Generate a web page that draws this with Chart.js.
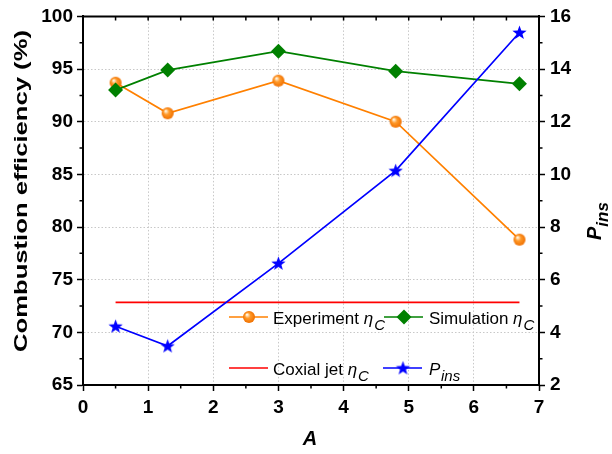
<!DOCTYPE html>
<html lang="en">
<head>
    <meta charset="UTF-8">
    <title>Combustion efficiency vs A</title>
    <script src="https://cdn.jsdelivr.net/npm/chart.js@4.4.0/dist/chart.umd.min.js"></script>
    <style>
        body { margin: 0; background: #fff; }
        #wrap { width: 612px; height: 454px; }
    </style>
</head>
<body>
    <div id="wrap"><canvas id="chart" width="612" height="454"></canvas></div>

    <script>
        // values
        const aValues = [0.5, 1.3, 3, 4.8, 6.7];
        const experimentEta = [93.7, 90.8, 93.9, 90.0, 78.8];
        const simulationEta = [93.0, 94.9, 96.7, 94.8, 93.6];
        const coaxialA = [0.5, 6.7];
        const coaxialEta = [72.85, 72.85];
        const pIns = [4.23, 3.48, 6.62, 10.14, 15.39];

        const xTicks = [0, 1, 2, 3, 4, 5, 6, 7];
        const etaTicks = [65, 70, 75, 80, 85, 90, 95, 100];
        const pTicks = [2, 4, 6, 8, 10, 12, 14, 16];

        const FONT = "'Liberation Sans', Arial, sans-serif";
        const ORANGE = '#ff8000', GREEN = '#008000', RED = '#ff0000', BLUE = '#0000ff';

        function toPoints(xs, ys) {
            return xs.map((x, i) => ({ x: x, y: ys[i] }));
        }

        // shaded orange ball marker
        function makeBall(r) {
            const c = document.createElement('canvas');
            c.width = c.height = 2 * r + 2;
            const g = c.getContext('2d');
            const cx = r + 1, cy = r + 1;
            const grad = g.createRadialGradient(cx - r * 0.35, cy - r * 0.4, r * 0.1, cx, cy, r);
            grad.addColorStop(0, '#fff4e0');
            grad.addColorStop(0.4, '#ff9a2a');
            grad.addColorStop(1, '#f07000');
            g.fillStyle = grad;
            g.beginPath();
            g.arc(cx, cy, r, 0, Math.PI * 2);
            g.fill();
            return c;
        }

        // filled five point star marker
        function makeStar(ro, ri) {
            const c = document.createElement('canvas');
            c.width = c.height = 2 * ro + 2;
            const g = c.getContext('2d');
            const cx = ro + 1, cy = ro + 1.5;
            g.fillStyle = BLUE;
            g.beginPath();
            for (let i = 0; i < 10; i++) {
                const r = i % 2 ? ri : ro;
                const a = -Math.PI / 2 + i * Math.PI / 5;
                g.lineTo(cx + r * Math.cos(a), cy + r * Math.sin(a));
            }
            g.closePath();
            g.fill();
            return c;
        }

        const ball = makeBall(6);
        const star = makeStar(7.5, 3.1);

        function tickList(list) {
            return function (scale) { scale.ticks = list.map(v => ({ value: v })); };
        }

        function drawEtaLabel(ctx, x, y, text) {
            ctx.font = '17px ' + FONT;
            ctx.fillText(text, x, y);
            let w = ctx.measureText(text).width;
            ctx.font = 'italic 17px ' + FONT;
            ctx.fillText('\u03b7', x + w, y);
            w += ctx.measureText('\u03b7').width;
            ctx.font = 'italic 15px ' + FONT;
            ctx.fillText('C', x + w + 1, y + 6);
        }

        const extras = {
            id: 'extras',
            afterDatasetsDraw(chart) {
                const ctx = chart.ctx;
                const area = chart.chartArea;
                const xs = chart.scales.x, yl = chart.scales.y, yr = chart.scales.y1;
                ctx.save();
                ctx.strokeStyle = '#000';
                ctx.lineWidth = 2;

                // top frame line
                ctx.beginPath();
                ctx.moveTo(area.left - 1, area.top);
                ctx.lineTo(area.right + 1, area.top);
                ctx.stroke();

                ctx.lineWidth = 1.5;
                ctx.beginPath();
                // minor ticks
                for (let v = 0.5; v < 7; v += 1) {
                    const px = xs.getPixelForValue(v);
                    ctx.moveTo(px, area.bottom);
                    ctx.lineTo(px, area.bottom + 3.5);
                }
                for (let v = 0.5; v < 7; v += 0.5) {
                    const px = xs.getPixelForValue(v);
                    ctx.moveTo(px, area.top);
                    ctx.lineTo(px, area.top + 4);
                }
                for (let v = 67.5; v < 100; v += 5) {
                    const py = yl.getPixelForValue(v);
                    ctx.moveTo(area.left - 3.5, py);
                    ctx.lineTo(area.left, py);
                }
                for (let v = 3; v < 16; v += 2) {
                    const py = yr.getPixelForValue(v);
                    ctx.moveTo(area.right, py);
                    ctx.lineTo(area.right + 3.5, py);
                }
                ctx.stroke();

                // legend
                ctx.lineWidth = 1.7;
                ctx.fillStyle = '#000';
                ctx.textBaseline = 'alphabetic';
                const rows = [317, 368];
                const cols = [229, 384];

                ctx.strokeStyle = ORANGE;
                ctx.beginPath(); ctx.moveTo(cols[0], rows[0]); ctx.lineTo(cols[0] + 39, rows[0]); ctx.stroke();
                ctx.drawImage(ball, cols[0] + 20 - ball.width / 2, rows[0] - ball.height / 2);

                ctx.strokeStyle = GREEN;
                ctx.beginPath(); ctx.moveTo(cols[1], rows[0]); ctx.lineTo(cols[1] + 39, rows[0]); ctx.stroke();
                ctx.fillStyle = GREEN;
                ctx.beginPath();
                const dx = cols[1] + 20, dy = rows[0];
                ctx.moveTo(dx, dy - 7.5); ctx.lineTo(dx + 7.5, dy); ctx.lineTo(dx, dy + 7.5); ctx.lineTo(dx - 7.5, dy);
                ctx.closePath(); ctx.fill();

                ctx.strokeStyle = RED;
                ctx.beginPath(); ctx.moveTo(cols[0], rows[1]); ctx.lineTo(cols[0] + 39, rows[1]); ctx.stroke();

                ctx.strokeStyle = BLUE;
                ctx.beginPath(); ctx.moveTo(cols[1] - 1, rows[1]); ctx.lineTo(cols[1] + 38, rows[1]); ctx.stroke();
                ctx.drawImage(star, cols[1] + 19 - star.width / 2, rows[1] - star.height / 2);

                ctx.fillStyle = '#000';
                drawEtaLabel(ctx, 273, 324, 'Experiment ');
                drawEtaLabel(ctx, 429, 324, 'Simulation ');
                drawEtaLabel(ctx, 273, 375, 'Coxial jet ');
                ctx.font = 'italic 17px ' + FONT;
                ctx.fillText('P', 429, 375);
                ctx.font = 'italic 15px ' + FONT;
                ctx.fillText('ins', 441, 381);

                // axis titles
                ctx.save();
                ctx.translate(27, 191);
                ctx.rotate(-Math.PI / 2);
                ctx.font = 'bold 19px ' + FONT;
                const title = 'Combustion efficiency (%)';
                const tw = ctx.measureText(title).width;
                ctx.scale(322 / tw, 1);
                ctx.textAlign = 'center';
                ctx.fillText(title, 0, 0);
                ctx.restore();

                ctx.save();
                ctx.translate(601, 240);
                ctx.rotate(-Math.PI / 2);
                ctx.font = 'bold italic 20px ' + FONT;
                ctx.fillText('P', 0, 0);
                const pw = ctx.measureText('P').width;
                ctx.font = 'bold italic 17px ' + FONT;
                ctx.fillText('ins', pw, 7);
                ctx.restore();

                ctx.font = 'bold italic 20px ' + FONT;
                ctx.textAlign = 'center';
                ctx.fillText('A', 310, 445);
                ctx.restore();
            }
        };

        const tickFont = { family: FONT, size: 19, weight: 'bold' };
        const gridOpts = { color: '#c8c8c8', lineWidth: 1, tickLength: 6, tickColor: '#000', tickWidth: 1.5 };

        new Chart(document.getElementById('chart'), {
            type: 'line',
            data: {
                datasets: [
                    {
                        label: 'Experiment',
                        data: toPoints(aValues, experimentEta),
                        borderColor: ORANGE, borderWidth: 1.7,
                        pointStyle: ball, pointRadius: 6,
                        yAxisID: 'y', order: 4
                    },
                    {
                        label: 'Simulation',
                        data: toPoints(aValues, simulationEta),
                        borderColor: GREEN, backgroundColor: GREEN, borderWidth: 1.7,
                        pointStyle: 'rectRot', pointRadius: 7.5, pointBorderWidth: 0,
                        yAxisID: 'y', order: 3
                    },
                    {
                        label: 'Coxial jet',
                        data: toPoints(coaxialA, coaxialEta),
                        borderColor: RED, borderWidth: 1.7, pointRadius: 0,
                        yAxisID: 'y', order: 2
                    },
                    {
                        label: 'Pins',
                        data: toPoints(aValues, pIns),
                        borderColor: BLUE, borderWidth: 1.7,
                        pointStyle: star, pointRadius: 8,
                        yAxisID: 'y1', order: 1
                    }
                ]
            },
            options: {
                responsive: false,
                animation: false,
                devicePixelRatio: 1,
                layout: { padding: { top: 15, left: 0, right: 0, bottom: 0 } },
                plugins: { legend: { display: false }, tooltip: { enabled: false } },
                scales: {
                    x: {
                        type: 'linear', min: 0, max: 7,
                        afterBuildTicks: tickList(xTicks),
                        ticks: { color: '#000', font: tickFont, padding: 5, maxRotation: 0 },
                        grid: gridOpts,
                        border: { color: '#000', width: 2, dash: [1.5, 2] },
                        afterFit(s) { s.height = 69; }
                    },
                    y: {
                        position: 'left', min: 65, max: 100,
                        afterBuildTicks: tickList(etaTicks),
                        ticks: { color: '#000', font: tickFont, padding: 4 },
                        grid: gridOpts,
                        border: { color: '#000', width: 2, dash: [1.5, 2] },
                        afterFit(s) { s.width = 83; }
                    },
                    y1: {
                        position: 'right', min: 2, max: 16,
                        afterBuildTicks: tickList(pTicks),
                        ticks: { color: '#000', font: tickFont, padding: 5 },
                        grid: Object.assign({}, gridOpts, { drawOnChartArea: false }),
                        border: { color: '#000', width: 2 },
                        afterFit(s) { s.width = 73; }
                    }
                }
            },
            plugins: [extras]
        });
    </script>
</body>
</html>
